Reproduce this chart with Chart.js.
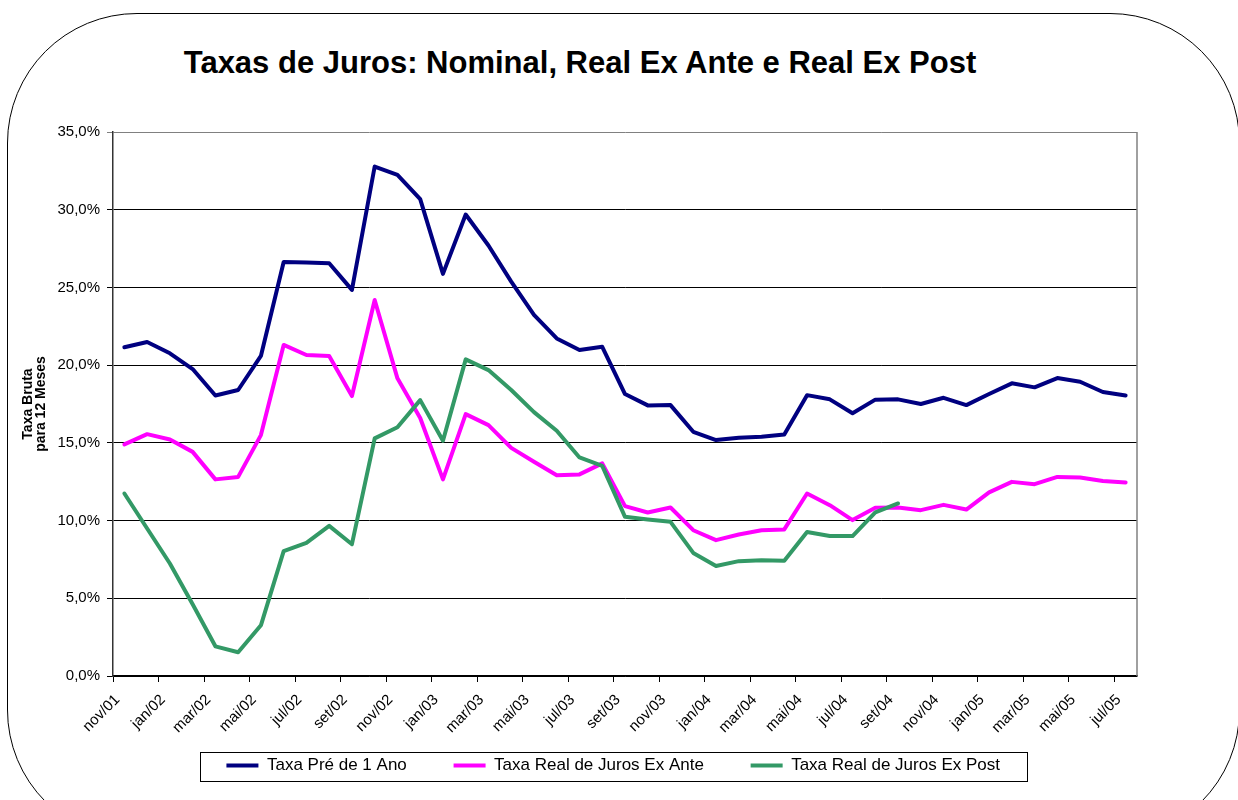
<!DOCTYPE html>
<html>
<head>
<meta charset="utf-8">
<script src="https://cdn.jsdelivr.net/npm/chart.js@4/dist/chart.umd.min.js"></script>
<style>
  html, body { margin: 0; padding: 0; background: #fff; overflow: hidden; }
  body { width: 1238px; height: 800px; position: relative; font-family: Arial, "Liberation Sans", sans-serif; }
  #frame { position: absolute; left: 7px; top: 13px; width: 1233px; height: 827px;
           border: 1.5px solid #000; border-radius: 130px; box-sizing: border-box; }
  #title { position: absolute; left: 0; width: 1160px; top: 45px; text-align: center;
           font: bold 31px Arial, "Liberation Sans", sans-serif; color: #000; }
  #chart { position: absolute; left: 0; top: 0; }
</style>
</head>
<body>
<div id="frame"></div>
<div id="title">Taxas de Juros: Nominal, Real Ex Ante e Real Ex Post</div>
<canvas id="chart" width="1238" height="800"></canvas>
<script>
// monthly categories, nov/01 .. jul/05
const months = ['nov/01', 'dez/01', 'jan/02', 'fev/02', 'mar/02', 'abr/02', 'mai/02', 'jun/02', 'jul/02',
  'ago/02', 'set/02', 'out/02', 'nov/02', 'dez/02', 'jan/03', 'fev/03', 'mar/03', 'abr/03', 'mai/03',
  'jun/03', 'jul/03', 'ago/03', 'set/03', 'out/03', 'nov/03', 'dez/03', 'jan/04', 'fev/04', 'mar/04',
  'abr/04', 'mai/04', 'jun/04', 'jul/04', 'ago/04', 'set/04', 'out/04', 'nov/04', 'dez/04', 'jan/05',
  'fev/05', 'mar/05', 'abr/05', 'mai/05', 'jun/05', 'jul/05'];

// values in %
const taxaPre = [21.15, 21.49, 20.76, 19.75, 18.05, 18.40, 20.59, 26.64, 26.60, 26.56, 24.84, 32.78, 32.24,
  30.68, 25.87, 29.69, 27.70, 25.37, 23.23, 21.72, 20.97, 21.18, 18.14, 17.41, 17.43, 15.71, 15.18, 15.33,
  15.39, 15.54, 18.07, 17.80, 16.90, 17.78, 17.80, 17.50, 17.90, 17.43, 18.14, 18.83, 18.57, 19.17, 18.93,
  18.27, 18.05];

const realExAnte = [14.90, 15.56, 15.22, 14.42, 12.65, 12.81, 15.50, 21.30, 20.65, 20.59, 18.01, 24.19, 19.15,
  16.60, 12.65, 16.85, 16.14, 14.68, 13.78, 12.92, 12.97, 13.68, 10.93, 10.52, 10.84, 9.38, 8.74, 9.10,
  9.38, 9.43, 11.74, 10.99, 10.03, 10.83, 10.84, 10.67, 11.01, 10.71, 11.81, 12.49, 12.34, 12.81, 12.77,
  12.54, 12.45];

const realExPost = [11.74, 9.49, 7.24, 4.62, 1.91, 1.53, 3.26, 8.03, 8.57, 9.66, 8.48, 15.29, 16.00,
  17.75, 15.13, 20.37, 19.68, 18.40, 16.98, 15.78, 14.06, 13.52, 10.24, 10.07, 9.92, 7.92, 7.08, 7.39,
  7.45, 7.41, 9.27, 9.01, 9.00, 10.53, 11.10, null, null, null, null, null, null, null, null, null, null];

const yTicks = [0, 5, 10, 15, 20, 25, 30, 35];

const font = 'Arial, "Liberation Sans", sans-serif';

// legend entries are spaced wider than the vertical padding allows, so pad them with no-break spaces
const gapAfter = ['\u00A0'.repeat(8), '\u00A0'.repeat(8), '\u00A0'.repeat(5)];

// plot-area right border + legend frame
const extras = {
  id: 'extras',
  beforeDatasetsDraw(chart) {
    const { ctx, chartArea: a } = chart;
    ctx.save();
    ctx.strokeStyle = '#808080';
    ctx.lineWidth = 1.5;
    ctx.beginPath();
    ctx.moveTo(a.right, a.top);
    ctx.lineTo(a.right, a.bottom);
    ctx.stroke();
    ctx.restore();
  },
  afterDraw(chart) {
    const boxes = chart.legend.legendHitBoxes;
    if (!boxes || !boxes.length) return;
    const ctx = chart.ctx;
    ctx.save();
    ctx.font = '17px ' + font;
    const tail = ctx.measureText(gapAfter[2]).width;
    const last = boxes[boxes.length - 1];
    const left = boxes[0].left - 26;
    const right = last.left + last.width - tail + 27;
    const top = boxes[0].top - 5;
    const h = boxes[0].height + 12;
    ctx.strokeStyle = '#000';
    ctx.lineWidth = 1;
    ctx.strokeRect(Math.round(left) + 0.5, Math.round(top) + 0.5, Math.round(right - left), Math.round(h));
    ctx.restore();
  }
};

const ctx = document.getElementById('chart').getContext('2d');
new Chart(ctx, {
  type: 'line',
  data: {
    labels: months,
    datasets: [
      { label: 'Taxa Pré de 1 Ano', data: taxaPre, borderColor: '#000080', backgroundColor: '#000080', order: 3 },
      { label: 'Taxa Real de Juros Ex Ante', data: realExAnte, borderColor: '#FF00FF', backgroundColor: '#FF00FF', order: 2 },
      { label: 'Taxa Real de Juros Ex Post', data: realExPost, borderColor: '#339966', backgroundColor: '#339966', order: 1 }
    ]
  },
  options: {
    responsive: false,
    animation: false,
    devicePixelRatio: 1,
    layout: { padding: { left: 22, right: 101, top: 132, bottom: 16 } },
    elements: {
      line: { borderWidth: 4, tension: 0, borderJoinStyle: 'round', borderCapStyle: 'round' },
      point: { radius: 0, hoverRadius: 0 }
    },
    plugins: {
      title: { display: false },
      tooltip: { enabled: false },
      legend: {
        position: 'bottom',
        fullSize: false,
        labels: {
          boxWidth: 32,
          boxHeight: 4,
          padding: 9,
          color: '#000',
          font: { family: font, size: 17 },
          sort: (a, b) => a.datasetIndex - b.datasetIndex,
          generateLabels: chart => Chart.defaults.plugins.legend.labels.generateLabels(chart)
            .map(l => Object.assign(l, { lineWidth: 0, text: l.text + gapAfter[l.datasetIndex] }))
        }
      }
    },
    scales: {
      x: {
        type: 'category',
        offset: true,
        afterFit: s => { s.height = 72; },
        grid: {
          offset: true,
          drawOnChartArea: false,
          drawTicks: true,
          tickLength: 6,
          color: c => (c.index % 2 === 0 ? '#000' : 'rgba(0,0,0,0)')
        },
        border: { color: '#000', width: 1.5 },
        ticks: {
          autoSkip: false,
          minRotation: 45,
          maxRotation: 45,
          padding: 9,
          labelOffset: -7,
          color: '#000',
          font: { family: font, size: 15 },
          callback: function (v, i) { return i % 2 === 0 ? this.getLabelForValue(v) : ''; }
        }
      },
      y: {
        min: yTicks[0],
        max: yTicks[yTicks.length - 1],
        afterFit: s => { s.width = 91; },
        afterBuildTicks: s => { s.ticks = yTicks.map(v => ({ value: v })); },
        grid: {
          color: c => (c.tick && c.tick.value === 35 ? '#808080' : '#000'),
          lineWidth: 1,
          tickLength: 6
        },
        border: { color: '#333', width: 1.5 },
        ticks: {
          padding: 7,
          color: '#000',
          font: { family: font, size: 15 },
          callback: v => v.toFixed(1).replace('.', ',') + '%'
        },
        title: {
          display: true,
          text: ['Taxa Bruta', 'para 12 Meses'],
          color: '#000',
          font: { family: font, size: 14, weight: 'bold', lineHeight: 0.93 },
          padding: { top: 0, bottom: 0 }
        }
      }
    }
  },
  plugins: [extras]
});
</script>
</body>
</html>
